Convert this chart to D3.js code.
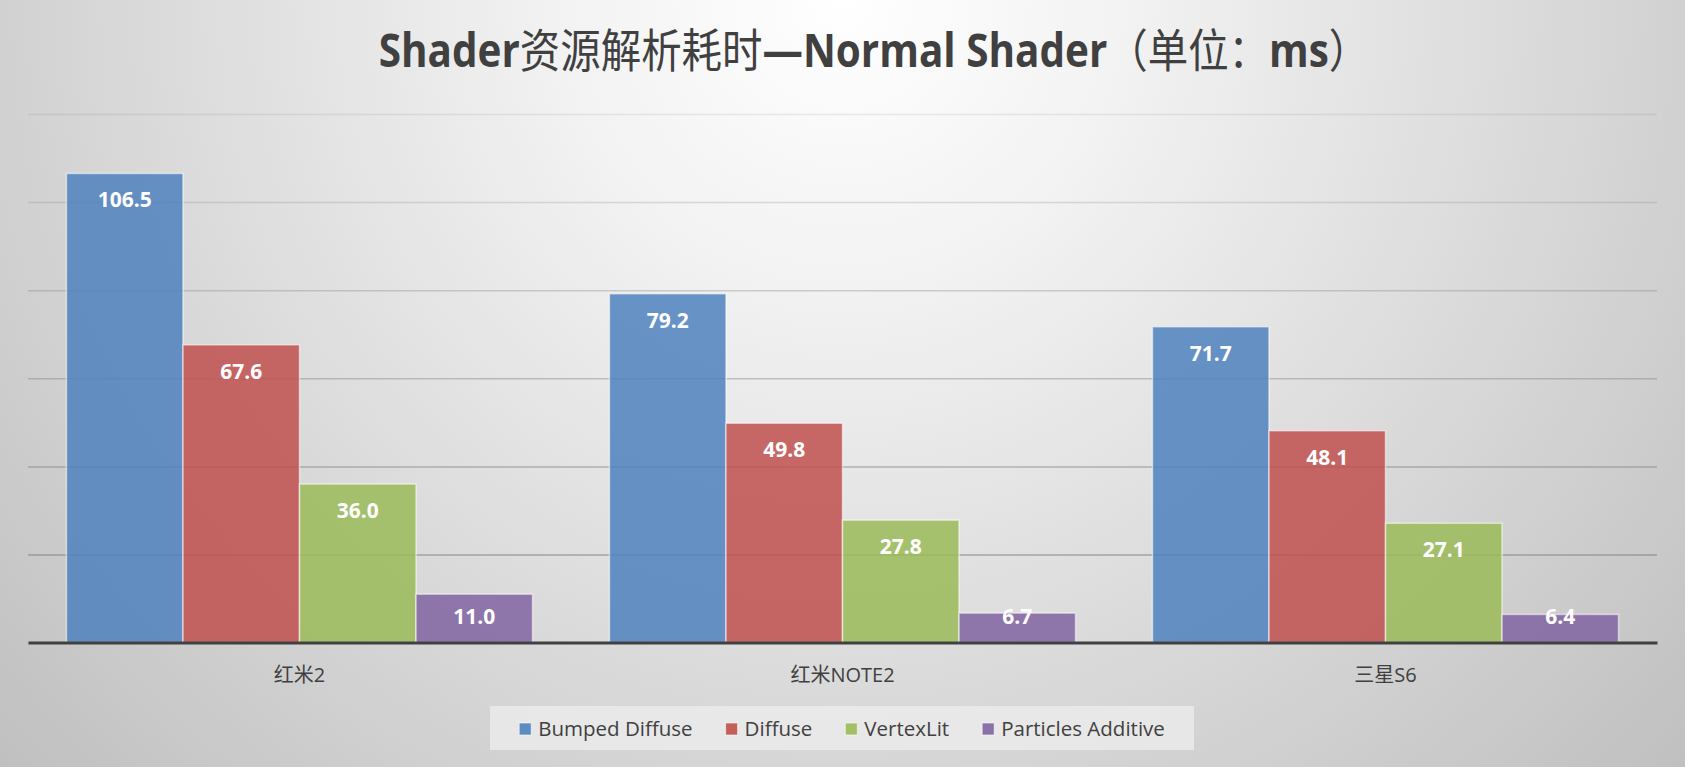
<!DOCTYPE html>
<html>
<head>
<meta charset="utf-8">
<script src="https://cdn.jsdelivr.net/npm/d3@7"></script>
<style>
  body { margin: 0; overflow: hidden; }
  svg { display: block; }
</style>
</head>
<body>
<script>
// chart data
var categories = ["红米2", "红米NOTE2", "三星S6"];
var seriesNames = ["Bumped Diffuse", "Diffuse", "VertexLit", "Particles Additive"];
var bumpedDiffuse = [106.5, 79.2, 71.7];
var diffuse = [67.6, 49.8, 48.1];
var vertexLit = [36.0, 27.8, 27.1];
var particlesAdditive = [11.0, 6.7, 6.4];
var yTicks = [20, 40, 60, 80, 100, 120];

var seriesValues = [bumpedDiffuse, diffuse, vertexLit, particlesAdditive];
var colors = ["#4F81BD", "#C0504D", "#9BBB59", "#8064A2"];

var W = 1685, H = 767;
var margin = {top: 114, right: 28, bottom: 124.4, left: 28},
    width = W - margin.left - margin.right,
    height = H - margin.top - margin.bottom;

var svg = d3.select("body").append("svg")
    .attr("width", W)
    .attr("height", H);

// background gradient
var defs = svg.append("defs");
var grad = defs.append("radialGradient")
    .attr("id", "bg")
    .attr("gradientUnits", "userSpaceOnUse")
    .attr("cx", W / 2).attr("cy", 0).attr("r", 1150);
grad.append("stop").attr("offset", 0).attr("stop-color", "#ffffff");
grad.append("stop").attr("offset", 0.25).attr("stop-color", "#f2f2f2");
grad.append("stop").attr("offset", 1).attr("stop-color", "#bfbfbf");

svg.append("rect")
    .attr("width", W).attr("height", H)
    .attr("fill", "url(#bg)");

// title: measured, then squeezed horizontally to the reference width
var titleG = svg.append("g");
var title = titleG.append("text")
    .attr("x", 0)
    .attr("y", 0)
    .attr("text-anchor", "middle")
    .attr("fill", "#404040")
    .style("font-size", "46px")
    .style("font-family", "'Open Sans', 'Noto Sans CJK SC', sans-serif");
var titleParts = [
  ["Shader", 700], ["资源解析耗时", 400], ["—Normal Shader", 700],
  ["（单位：", 400], ["ms", 700], ["）", 400]
];
titleParts.forEach(function(p) {
  title.append("tspan").style("font-weight", p[1]).text(p[0]);
});
var titleLen = title.node().getComputedTextLength();
titleG.attr("transform", "translate(874,67) scale(" + (991 / titleLen) + ",1)");

var g = svg.append("g")
    .attr("transform", "translate(" + margin.left + "," + margin.top + ")");

// scales
var x0 = d3.scaleBand().domain(categories).range([0, width]).paddingInner(0).paddingOuter(0);
var x1 = d3.scaleBand().domain(seriesNames).range([0, x0.bandwidth()])
    .paddingInner(0).paddingOuter(0.33);
var y = d3.scaleLinear().domain([0, 120]).range([height, 0]);

// gridlines
var grid = g.append("g")
    .attr("class", "grid")
    .call(d3.axisLeft(y).tickValues(yTicks).tickSize(-width).tickFormat(""));
grid.select(".domain").remove();
grid.selectAll(".tick line")
    .attr("stroke", "#7f7f7f")
    .attr("stroke-width", 1.5)
    .attr("stroke-opacity", function(d) { return 0.15 + 0.55 * (1 - d / 120); });

// bars
var groups = g.selectAll(".group")
    .data(categories)
  .enter().append("g")
    .attr("class", "group")
    .attr("transform", function(d) { return "translate(" + x0(d) + ",0)"; });

var cells = groups.selectAll(".bar")
    .data(function(c, ci) {
      return seriesNames.map(function(s, si) {
        return {series: s, si: si, value: seriesValues[si][ci]};
      });
    })
  .enter();

cells.append("rect")
    .attr("class", "bar")
    .attr("x", function(d) { return x1(d.series); })
    .attr("y", function(d) { return y(d.value); })
    .attr("width", x1.bandwidth())
    .attr("height", function(d) { return height - y(d.value); })
    .attr("fill", function(d) { return colors[d.si]; })
    .attr("fill-opacity", 0.85)
    .attr("stroke", "#ffffff")
    .attr("stroke-opacity", 0.55)
    .attr("stroke-width", 1.5);

cells.append("text")
    .attr("x", function(d) { return x1(d.series) + x1.bandwidth() / 2; })
    .attr("y", function(d) { return Math.min(y(d.value) + 34, height - 19); })
    .attr("text-anchor", "middle")
    .attr("fill", "#ffffff")
    .style("font-family", "'Open Sans', sans-serif")
    .style("font-weight", 700)
    .style("font-size", "21px")
    .text(function(d) { return d.value.toFixed(1); });

// x axis
var xAxis = g.append("g")
    .attr("class", "x axis")
    .attr("transform", "translate(0," + height + ")")
    .call(d3.axisBottom(x0).tickSize(0).tickPadding(0));
xAxis.select(".domain")
    .attr("stroke", "#404040")
    .attr("stroke-width", 3);
xAxis.selectAll(".tick text")
    .attr("y", 39)
    .attr("dy", 0)
    .attr("fill", "#404040")
    .style("font-family", "'Open Sans', 'Noto Sans CJK SC', sans-serif")
    .style("font-size", "20px");

// legend
svg.append("rect")
    .attr("x", 490).attr("y", 706)
    .attr("width", 704).attr("height", 44)
    .attr("fill", "#f0f0f0")
    .attr("fill-opacity", 0.7);

var legend = svg.append("g").attr("class", "legend");
var items = legend.selectAll(".item")
    .data(seriesNames)
  .enter().append("g")
    .attr("class", "item");

items.append("rect")
    .attr("width", 12).attr("height", 12)
    .attr("y", 723)
    .attr("fill", function(d, i) { return colors[i]; })
    .attr("fill-opacity", 0.9)
    .attr("stroke", "#ffffff")
    .attr("stroke-opacity", 0.6);

items.append("text")
    .attr("x", 19)
    .attr("y", 736)
    .attr("fill", "#404040")
    .style("font-family", "'Open Sans', sans-serif")
    .style("font-size", "20.5px")
    .text(function(d) { return d; });

var gap = 33;
var offsets = [], pos = 0;
items.each(function() {
  offsets.push(pos);
  pos += 19 + d3.select(this).select("text").node().getComputedTextLength() + gap;
});
var total = pos - gap;
var startX = 842 - total / 2;
items.attr("transform", function(d, i) { return "translate(" + (startX + offsets[i]) + ",0)"; });
</script>
</body>
</html>
